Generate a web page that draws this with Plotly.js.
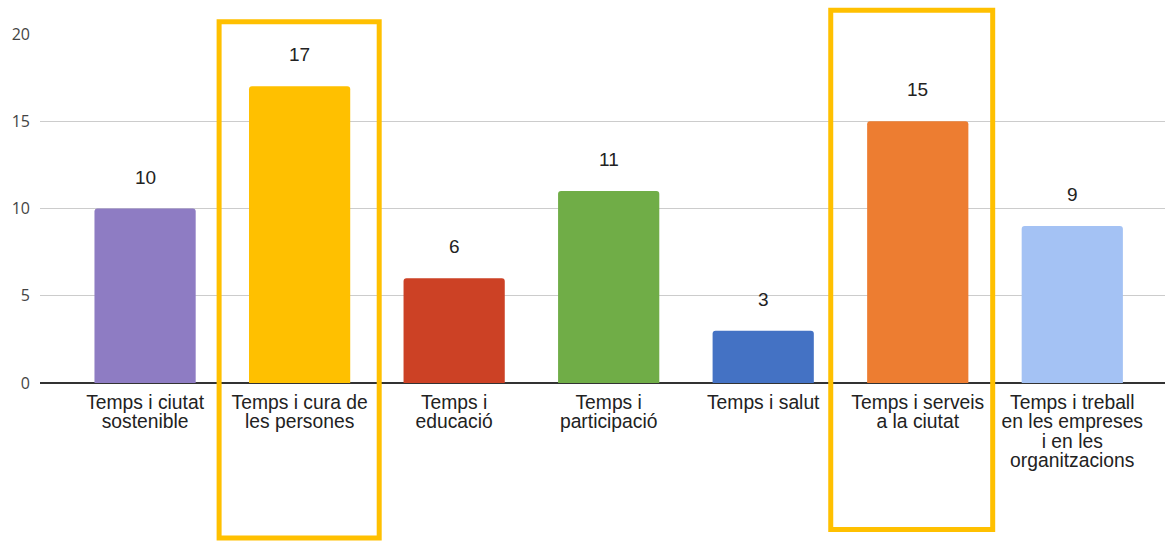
<!DOCTYPE html>
<html><head><meta charset="utf-8">
<script src="https://cdn.plot.ly/plotly-3.0.1.min.js"></script>
<style>html,body{margin:0;padding:0;background:#fff}#chart{width:1165px;height:541px}</style>
</head><body><div id="chart"></div>
<script>
const categories = [
  "Temps i ciutat<br>sostenible",
  "Temps i cura de<br>les persones",
  "Temps i<br>educació",
  "Temps i<br>participació",
  "Temps i salut",
  "Temps i serveis<br>a la ciutat",
  "Temps i treball<br>en les empreses<br>i en les<br>organitzacions"
];
const values = [10, 17, 6, 11, 3, 15, 9];
const colors = ["#8E7CC3", "#FFC000", "#CC4125", "#70AD47", "#4472C4", "#ED7D31", "#A4C2F4"];
const highlighted = [1, 5];
const yTicks = [0, 5, 10, 15, 20];

const idx = categories.map((c, i) => i);
const xRange = [-0.68, 6.6];
const toPaperX = v => (v - xRange[0]) / (xRange[1] - xRange[0]);

const trace = {
  type: "bar",
  x: idx,
  y: values,
  width: 0.655,
  marker: {color: colors, cornerradius: 3},
  hoverinfo: "none"
};

const annotations = values.map((v, i) => ({
  x: i, y: v, xref: "x", yref: "y",
  text: String(v), showarrow: false,
  yanchor: "bottom", yshift: 19,
  font: {family: "Liberation Sans, Arial, sans-serif", size: 19, color: "#222"}
}));

const boxLeft = [-0.521, -0.563];
const boxRight = [0.515, 0.485];
const boxTops = [1.035, 1.068];
const boxBottoms = [-0.444, -0.42];
const shapes = highlighted.map((h, k) => ({
  type: "rect", xref: "paper", yref: "paper",
  x0: toPaperX(h + boxLeft[k]), x1: toPaperX(h + boxRight[k]),
  y0: boxBottoms[k], y1: boxTops[k],
  line: {color: "#FFC000", width: 5},
  fillcolor: "rgba(0,0,0,0)", layer: "above"
}));

const layout = {
  width: 1165, height: 541,
  margin: {l: 40, r: 0, t: 34, b: 158},
  paper_bgcolor: "#fff", plot_bgcolor: "#fff",
  showlegend: false,
  xaxis: {
    range: xRange, tickvals: idx, ticktext: categories,
    showgrid: false, zeroline: false, showline: false, ticks: "",
    ticklabelstandoff: 6,
    tickfont: {family: "Liberation Sans, Arial, sans-serif", size: 19.3, color: "#222"},
    fixedrange: true
  },
  yaxis: {
    range: [0, 20], tickvals: yTicks, ticktext: yTicks.map(String),
    showgrid: true, gridcolor: "#cccccc", gridwidth: 1,
    zeroline: true, zerolinecolor: "#333333", zerolinewidth: 2,
    showline: false, ticks: "", ticklabelstandoff: 9,
    tickfont: {family: "Open Sans, Liberation Sans, sans-serif", size: 16, color: "#444"},
    fixedrange: true
  },
  annotations: annotations,
  shapes: shapes
};

Plotly.newPlot("chart", [trace], layout, {displayModeBar: false, staticPlot: true}).then(() => {
  const scale = 0.99 / 1.3;
  document.querySelectorAll(".xtick text tspan.line").forEach(t => {
    const d = t.getAttribute("dy");
    if (d && d.endsWith("em")) {
      const v = parseFloat(d);
      if (!isNaN(v) && v !== 0) t.setAttribute("dy", (v * scale) + "em");
    }
  });
});
</script>
</body></html>
